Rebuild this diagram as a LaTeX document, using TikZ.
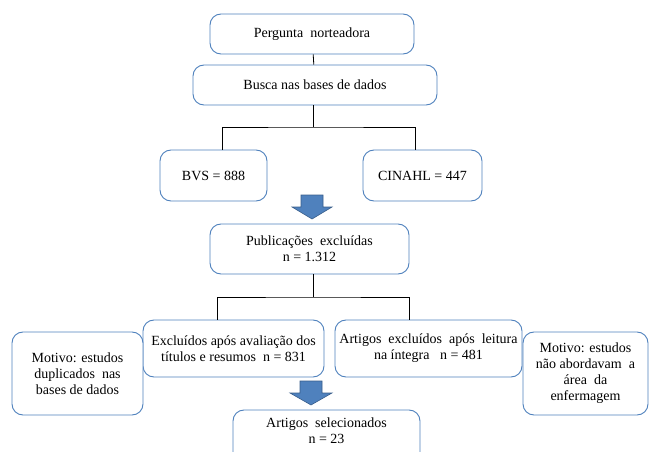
\documentclass[tikz,border=0pt]{standalone}
\usepackage{fontspec}
\setmainfont{Liberation Serif}
\definecolor{caixa}{RGB}{79,129,189}
\definecolor{setaborda}{RGB}{56,93,138}
\tikzset{
  etapa/.style={draw=caixa, line width=0.9pt, rounded corners=11pt, fill=white,
    align=center, inner sep=2pt, font=\rmfamily\fontsize{14}{16}\selectfont},
  seta/.style={fill=caixa, draw=setaborda, line width=0.6pt},
  liga/.style={draw=black, line width=0.8pt}
}
\begin{document}
\begin{tikzpicture}[x=1pt,y=-1pt]
   \useasboundingbox (0,0) rectangle (649,452);
   \clip (0,0) rectangle (649,452);

   % caixas
   \node[etapa, minimum width=204, minimum height=40] (perg) at (312,34) {Pergunta \ norteadora};
   \node[etapa, minimum width=244, minimum height=40] (busca) at (315,85) {Busca nas bases de dados};
   \node[etapa, minimum width=107, minimum height=51] (bvs) at (213.5,175.5) {BVS = 888};
   \node[etapa, minimum width=119, minimum height=51] (cinahl) at (422.5,175.5) {CINAHL = 447};
   \node[etapa, minimum width=199, minimum height=50] (publ) at (309.5,249) {Publicações \ excluídas\\ n = 1.312};
   \node[etapa, minimum width=181, minimum height=57] (excl1) at (233.5,348.5) {Excluídos após avaliação dos\\ títulos e resumos \ n = 831};
   \node[etapa, minimum width=187, minimum height=57] (excl2) at (428.5,348.5) {Artigos \ excluídos \ após \ leitura\\ na íntegra \ \ n = 481};
   \node[etapa, minimum width=131, minimum height=83] (mot1) at (77.5,373.5) {Motivo: estudos\\ duplicados \ nas\\ bases de dados};
   \node[etapa, minimum width=125, minimum height=83] (mot2) at (585.5,373.5) {Motivo: estudos\\ não abordavam \ a\\ área \ da\\ enfermagem};
   \node[etapa, minimum width=187, minimum height=56, text depth=14pt] (sel) at (326.5,438) {Artigos \ selecionados\\ n = 23};

   % ligacoes
   \draw[liga] (perg) -- (busca);
   \coordinate (j1) at (313,127);
   \draw[liga] (busca.south -| j1) -- (j1);
   \draw[liga] ([xshift=9]bvs.north) |- (j1) -| ([xshift=-7]cinahl.north);
   \coordinate (j2) at (313,297);
   \draw[liga] (publ.south -| j2) -- (j2);
   \draw[liga] ([xshift=-16.5]excl1.north) |- (j2) -| ([xshift=-19.5]excl2.north);

   % setas
   \coordinate (a1) at (312,195);
   \draw[seta] (a1) ++(-11,0) -- ++(22,0) -- ++(0,12) -- ++(9,0) -- ++(-20,12) -- ++(-20,-12) -- ++(9,0) -- cycle;
   \coordinate (a2) at (311,381);
   \draw[seta] (a2) ++(-11,0) -- ++(22,0) -- ++(0,12) -- ++(10,0) -- ++(-21,12) -- ++(-21,-12) -- ++(10,0) -- cycle;

 \end{tikzpicture}
\end{document}
